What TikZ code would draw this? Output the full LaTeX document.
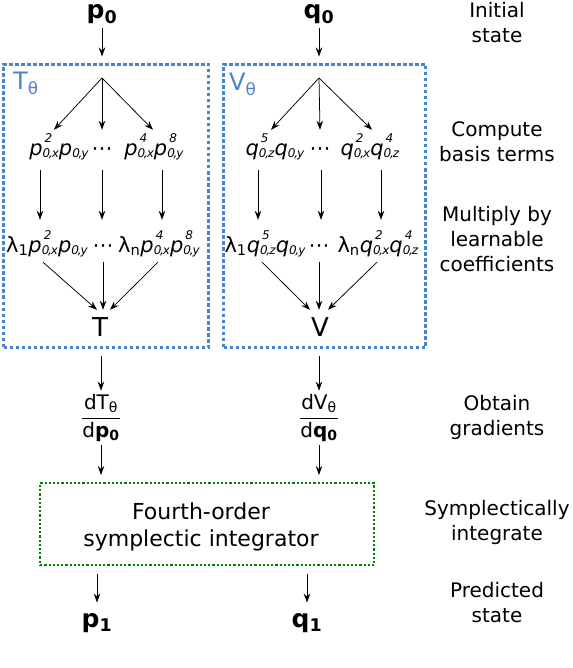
\documentclass[tikz,border=0pt]{standalone}
\usepackage{amsmath}
\usepackage{fontspec}
\setmainfont{DejaVu Sans}
\usetikzlibrary{arrows.meta,positioning}

\definecolor{boxblue}{RGB}{72,133,204}
\definecolor{boxgreen}{RGB}{0,128,0}
\newcommand{\txtfont}{\fontsize{20}{25}\selectfont}
\newcommand{\lofont}{\fontsize{12}{12}\selectfont}
% base, power, axis: base^power_{0,axis}
\newcommand{\pq}[3]{\textit{#1}\rlap{\kern2pt\raisebox{13pt}{\lofont\textit{#2}}}\raisebox{-2pt}{\lofont\textit{0\kern-1.3pt,\kern-1pt#3}}}

\tikzset{
  arr/.style={-{Stealth[length=9pt,width=6.5pt,inset=3pt]},line width=0.75pt},
  bluebox/.style={draw=boxblue,line width=3pt,dash pattern=on 3.2pt off 2.8pt,anchor=north west},
  greenbox/.style={draw=boxgreen,line width=2.4pt,dash pattern=on 2.2pt off 2pt,anchor=north west},
  termrow/.style={anchor=base,inner sep=0pt,text height=26pt,text depth=14pt,font=\fontsize{21}{25}\selectfont},
  lamrow/.style={anchor=base,inner sep=0pt,text height=32pt,text depth=10pt,font=\fontsize{21}{25}\selectfont},
  energy/.style={anchor=base,inner sep=0pt,text height=26pt,font=\fontsize{26}{26}\selectfont},
  boxlbl/.style={anchor=base west,inner sep=0pt,text=boxblue,font=\fontsize{24}{24}\selectfont},
  state/.style={anchor=base,font=\fontsize{25}{25}\selectfont\bfseries},
  steplbl/.style={anchor=base,align=center},
}

\begin{document}
\begin{tikzpicture}[x=1pt,y=-1pt,font=\txtfont]
\useasboundingbox (0,0) rectangle (572,668);
% initial state
\node[state] (p0) at (102,19) {p\textsubscript{0}};
\node[state] (q0) at (319,19) {q\textsubscript{0}};
% learned energies
\node[bluebox,minimum width=205pt,minimum height=283pt] (tbox) at (2,63) {};
\node[bluebox,minimum width=202pt,minimum height=283pt] (vbox) at (222,63) {};
\node[boxlbl] (tlabel) at (13,90) {T\textsubscript{θ}};
\node[boxlbl] (vlabel) at (229,91) {V\textsubscript{θ}};
\draw[arr,shorten >=6.5pt] (p0) -- (p0 |- tbox.north);
\draw[arr,shorten >=6.5pt] (q0) -- (q0 |- vbox.north);
\coordinate (ts) at (102,78);
\coordinate (vs) at (319,78);
% basis terms
\node[termrow] (t1) at (59,156) {\pq{p}{2}{x}\pq{p}{}{y}};
\node[termrow] (tdots) at (102,156) {⋯};
\node[termrow] (t2) at (154,156) {\pq{p}{4}{x}\pq{p}{8}{y}};
\node[termrow] (u1) at (275,156) {\pq{q}{5}{z}\pq{q}{}{y}};
\node[termrow] (udots) at (320,156) {⋯};
\node[termrow] (u2) at (370,156) {\pq{q}{2}{x}\pq{q}{4}{z}};
% coefficients
\node[lamrow] (l1) at (47,252) {λ\textsubscript{1}\pq{p}{2}{x}\pq{p}{}{y}};
\node[lamrow] (ldots) at (103,252) {⋯};
\node[lamrow] (l2) at (159,252) {λ\textsubscript{n}\pq{p}{4}{x}\pq{p}{8}{y}};
\node[lamrow] (m1) at (265,252) {λ\textsubscript{1}\pq{q}{5}{z}\pq{q}{}{y}};
\node[lamrow] (mdots) at (319,252) {⋯};
\node[lamrow] (m2) at (378,252) {λ\textsubscript{n}\pq{q}{2}{x}\pq{q}{4}{z}};
\node[energy] (tT) at (100,336) {T};
\node[energy] (vV) at (320,336) {V};
\foreach \t/\dx in {t1/-5,tdots/0,t2/-1}
  \draw[arr] (ts) -- ([xshift=\dx pt]\t.north);
\foreach \t/\dx in {u1/-4,udots/0,u2/2}
  \draw[arr] (vs) -- ([xshift=\dx pt]\t.north);
\foreach \a/\b/\dx in {t1/l1/-19,tdots/ldots/0,t2/l2/8,u1/m1/-17,udots/mdots/1,u2/m2/11}
  \draw[arr] ([xshift=\dx pt]\a.south) -- ([xshift=\dx pt]\a.south |- \b.north);
\draw[arr] ([xshift=-4pt]l1.south) -- ([xshift=-3pt]tT.north);
\draw[arr] (ldots.south) -- (ldots.south |- tT.north);
\draw[arr] ([xshift=-1pt]l2.south) -- ([xshift=10pt]tT.north);
\draw[arr] ([xshift=-3pt]m1.south) -- ([xshift=-10pt]vV.north);
\draw[arr] (mdots.south) -- (mdots.south |- vV.north);
\draw[arr] ([xshift=-1pt]m2.south) -- ([xshift=8pt]vV.north);
% gradients
\node (dTp) at (101,418) {$\dfrac{\text{dT\textsubscript{θ}}}{\text{d\textbf{p\textsubscript{0}}}}$};
\node (dVq) at (319,418) {$\dfrac{\text{dV\textsubscript{θ}}}{\text{d\textbf{q\textsubscript{0}}}}$};
\draw[arr,shorten <=6.5pt] (dTp |- tbox.south) -- (dTp);
\draw[arr,shorten <=6.5pt] (dVq |- vbox.south) -- (dVq);
% integrator
\node[greenbox,minimum width=334pt,minimum height=82pt] (integ) at (39,482) {};
\node[align=center,font=\fontsize{22}{27}\selectfont] (integtxt) at (201,527) {Fourth-order\\symplectic integrator};
\draw[arr,shorten >=7pt] (dTp) -- (dTp |- integ.north);
\draw[arr,shorten >=7pt] (dVq) -- (dVq |- integ.north);
% predicted state
\node[state] (p1) at (97,627) {p\textsubscript{1}};
\node[state] (q1) at (307,627) {q\textsubscript{1}};
\draw[arr,shorten <=8pt,shorten >=7pt] (p1 |- integ.south) -- (p1);
\draw[arr,shorten <=8pt,shorten >=7pt] (q1 |- integ.south) -- (q1);
% steps
\node[steplbl] (s1) at (497,43) {Initial\\state};
\node[steplbl] (s2) at (497,162) {Compute\\basis terms};
\node[steplbl] (s3) at (497,271) {Multiply by\\learnable\\coefficients};
\node[steplbl] (s4) at (497,435) {Obtain\\gradients};
\node[steplbl] (s5) at (497,540) {Symplectically\\integrate};
\node[steplbl] (s6) at (497,622) {Predicted\\state};
\end{tikzpicture}
\end{document}
